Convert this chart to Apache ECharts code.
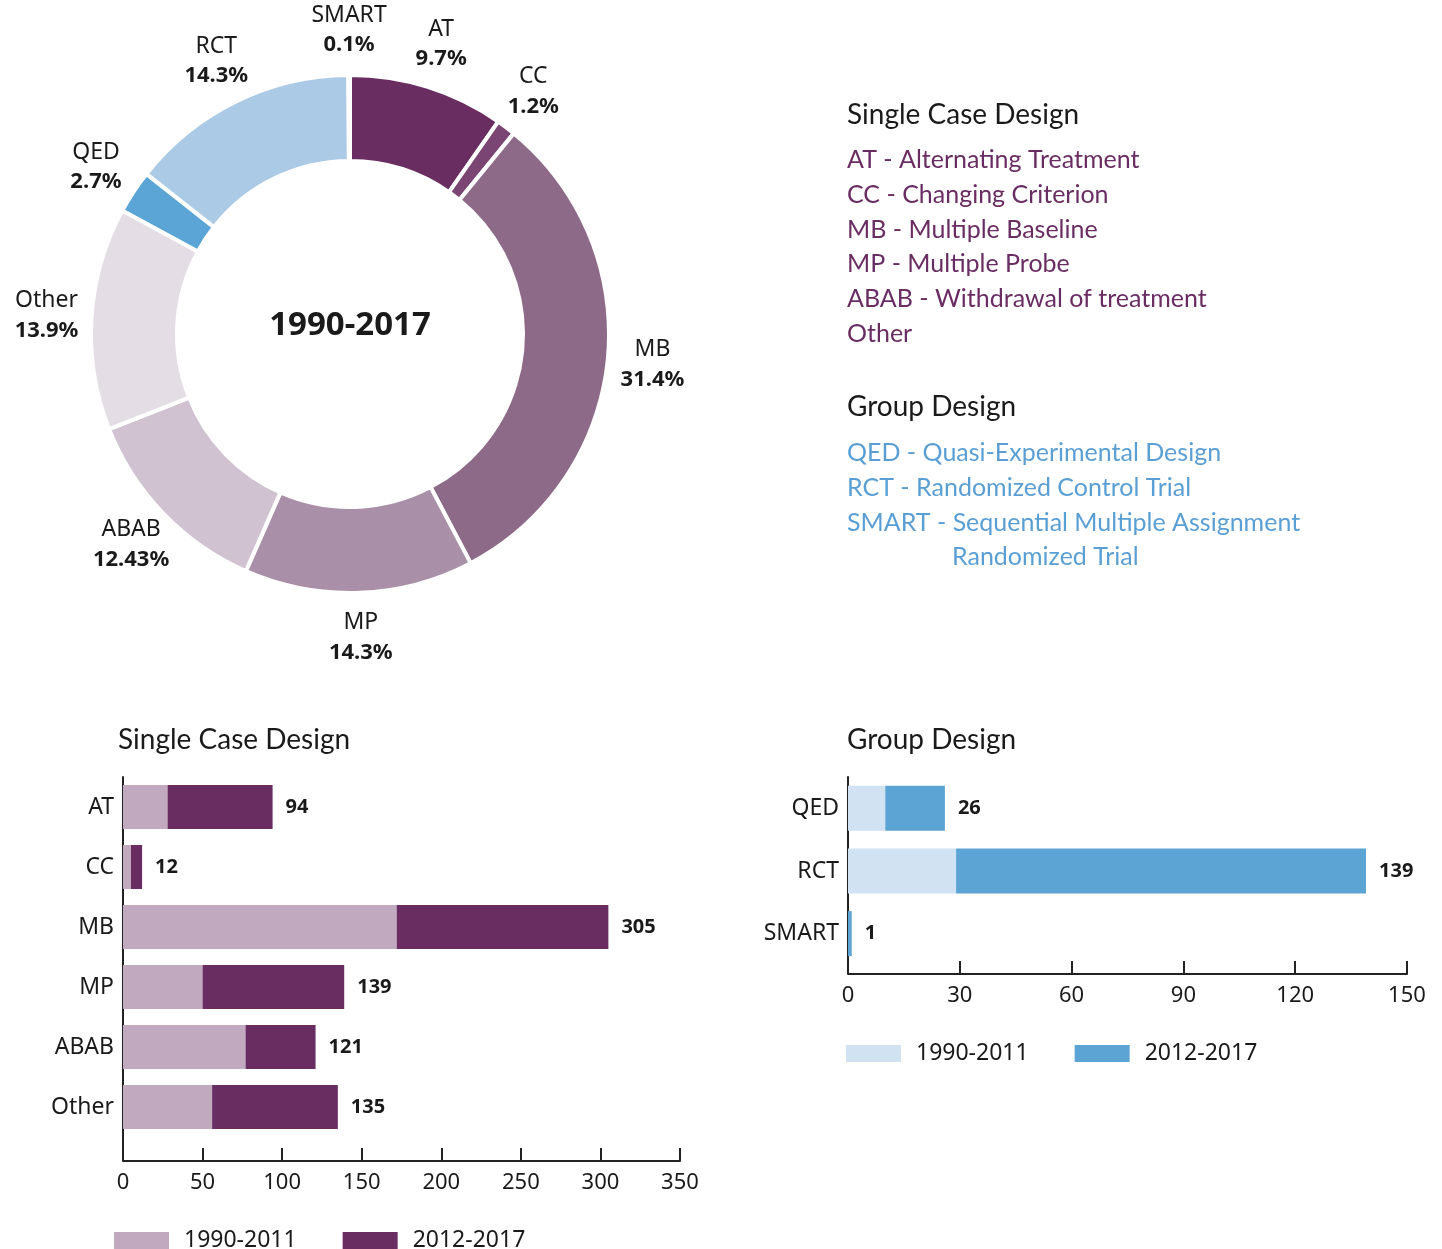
<!DOCTYPE html>
<html>
<head>
<meta charset="UTF-8">
<title>Study designs 1990-2017</title>
<style>
html,body{margin:0;padding:0;background:#fff;}
#main{width:1442px;height:1249px;}
</style>
</head>
<body>
<div id="main"></div>
<script src="https://cdn.jsdelivr.net/npm/echarts@6/dist/echarts.min.js"></script>
<script>
// donut: share of all studies 1990-2017 (percent)
var pieNames  = ['AT', 'CC', 'MB', 'MP', 'ABAB', 'Other', 'QED', 'RCT', 'SMART'];
var pieValues = [9.7, 1.2, 31.4, 14.3, 12.43, 13.9, 2.7, 14.3, 0.1];
var pieColors = ['#692d62', '#7b4573', '#8e6a89', '#a98fa8', '#d1c2d1', '#e5dde5', '#5aa5d5', '#abcae6', '#c5dcf0'];

// single case design counts
var singleCats = ['AT', 'CC', 'MB', 'MP', 'ABAB', 'Other'];
var singleOld  = [28, 5, 172, 50, 77, 56];    // 1990-2011
var singleNew  = [66, 7, 133, 89, 44, 79];    // 2012-2017

// group design counts
var groupCats = ['QED', 'RCT', 'SMART'];
var groupOld  = [10, 29, 0];
var groupNew  = [16, 110, 1];

var periods = ['1990-2011', '2012-2017'];

// key text on the right
var singleKey = ['AT - Alternating Treatment', 'CC - Changing Criterion', 'MB - Multiple Baseline',
                 'MP - Multiple Probe', 'ABAB - Withdrawal of treatment', 'Other'];
var groupKey  = ['QED - Quasi-Experimental Design', 'RCT - Randomized Control Trial',
                 'SMART - Sequential Multiple Assignment'];
var groupKeyWrap = 'Randomized Trial';

var FONT = '"Noto Sans", sans-serif';
var KEYFONT = 'Lato, sans-serif';
var INK = '#1a1a1a';

var cx = 350, cy = 334, labelR = 304;
var pieTotal = 0;
for (var i = 0; i < pieValues.length; i++) pieTotal += pieValues[i];

var myChart = echarts.init(document.getElementById('main'));

var graphics = [
  {type: 'text', x: cx, y: 326, style: {text: '1990-2017', font: 'bold 33px ' + FONT, fill: INK, align: 'center', verticalAlign: 'middle'}},
  {type: 'text', x: 118, y: 740, style: {text: 'Single Case Design', font: '28px ' + KEYFONT, fill: INK, verticalAlign: 'middle'}},
  {type: 'text', x: 847, y: 740, style: {text: 'Group Design', font: '28px ' + KEYFONT, fill: INK, verticalAlign: 'middle'}},
  {type: 'text', x: 847, y: 115, style: {text: 'Single Case Design', font: '28px ' + KEYFONT, fill: INK, verticalAlign: 'middle'}},
  {type: 'text', x: 847, y: 407, style: {text: 'Group Design', font: '28px ' + KEYFONT, fill: INK, verticalAlign: 'middle'}},
  // y axis lines continue down to the x axes
  {type: 'line', shape: {x1: 123, y1: 1136, x2: 123, y2: 1161}, style: {stroke: '#222', lineWidth: 2}},
  {type: 'line', shape: {x1: 848, y1: 964, x2: 848, y2: 974}, style: {stroke: '#222', lineWidth: 2}}
];
singleKey.forEach(function (t, k) {
  graphics.push({type: 'text', x: 847, y: 160 + k * 34.8,
    style: {text: t, font: '25px ' + KEYFONT, fill: '#6a2d63', verticalAlign: 'middle'}});
});
groupKey.forEach(function (t, k) {
  graphics.push({type: 'text', x: 847, y: 453 + k * 35,
    style: {text: t, font: '25px ' + KEYFONT, fill: '#5a9fd4', verticalAlign: 'middle'}});
});
graphics.push({type: 'text', x: 952, y: 557,
  style: {text: groupKeyWrap, font: '25px ' + KEYFONT, fill: '#5a9fd4', verticalAlign: 'middle'}});

function valueAxis(gi, max, step) {
  return {
    type: 'value', gridIndex: gi, min: 0, max: max, interval: step, offset: gi === 0 ? 24 : 9,
    axisLine: {show: true, lineStyle: {color: '#222', width: 2}},
    axisTick: {show: true, inside: true, length: 13, lineStyle: {color: '#222', width: 2}},
    splitLine: {show: false},
    axisLabel: {color: INK, fontFamily: FONT, fontSize: 22, margin: 11}
  };
}
function catAxis(gi, cats) {
  return {
    type: 'category', gridIndex: gi, data: cats, inverse: true,
    axisLine: {show: true, lineStyle: {color: '#222', width: 2}},
    axisTick: {show: false},
    axisLabel: {color: INK, fontFamily: FONT, fontSize: 23, margin: 9}
  };
}
var totalLabel = function (oldArr, newArr) {
  return {
    show: true, position: 'right', distance: 13,
    fontFamily: FONT, fontSize: 20, fontWeight: 'bold', color: INK,
    formatter: function (p) { return oldArr[p.dataIndex] + newArr[p.dataIndex]; }
  };
};

myChart.setOption({
  animation: false,
  graphic: graphics,
  grid: [
    {left: 123, top: 777, width: 557, height: 360, outerBoundsMode: 'none'},
    {left: 848, top: 777, width: 559, height: 188, outerBoundsMode: 'none'}
  ],
  xAxis: [valueAxis(0, 350, 50), valueAxis(1, 150, 30)],
  yAxis: [catAxis(0, singleCats), catAxis(1, groupCats)],
  legend: [
    {
      left: 114, top: 1229, padding: 0, itemWidth: 55, itemHeight: 17, itemGap: 46, icon: 'rect',
      textStyle: {fontFamily: FONT, fontSize: 23, color: INK, padding: [0, 0, 0, 10]},
      data: [{name: periods[0], itemStyle: {color: '#c1aabf'}}, {name: periods[1], itemStyle: {color: '#692d62'}}],
      selectedMode: false
    },
    {
      left: 846, top: 1042, padding: 0, itemWidth: 55, itemHeight: 17, itemGap: 46, icon: 'rect',
      textStyle: {fontFamily: FONT, fontSize: 23, color: INK, padding: [0, 0, 0, 10]},
      data: [{name: periods[0], itemStyle: {color: '#d1e2f2'}}, {name: periods[1], itemStyle: {color: '#5ba4d4'}}],
      selectedMode: false
    }
  ],
  series: [
    {
      type: 'pie', center: [cx, cy], radius: [173, 259], startAngle: 90, clockwise: true,
      avoidLabelOverlap: false, silent: true,
      itemStyle: {borderColor: '#fff', borderWidth: 4},
      labelLine: {show: false},
      label: {
        show: true, position: 'outside',
        formatter: function (p) { return '{n|' + p.name + '}\n{v|' + pieValues[p.dataIndex] + '%}'; },
        rich: {
          n: {fontFamily: FONT, fontSize: 23, color: INK, lineHeight: 30, align: 'center'},
          v: {fontFamily: FONT, fontSize: 22, fontWeight: 'bold', color: INK, lineHeight: 30, align: 'center'}
        }
      },
      labelLayout: function (params) {
        var before = 0;
        for (var j = 0; j < params.dataIndex; j++) before += pieValues[j];
        var mid = (before + pieValues[params.dataIndex] / 2) / pieTotal * Math.PI * 2;
        return {x: cx + labelR * Math.sin(mid), y: cy - labelR * Math.cos(mid), align: 'center', verticalAlign: 'middle'};
      },
      data: pieNames.map(function (n, k) {
        return {name: n, value: pieValues[k], itemStyle: {color: pieColors[k]}};
      })
    },
    {
      name: periods[0], type: 'bar', stack: 'single', xAxisIndex: 0, yAxisIndex: 0,
      barWidth: 44, itemStyle: {color: '#c1aabf'}, data: singleOld
    },
    {
      name: periods[1], type: 'bar', stack: 'single', xAxisIndex: 0, yAxisIndex: 0,
      barWidth: 44, itemStyle: {color: '#692d62'}, data: singleNew,
      label: totalLabel(singleOld, singleNew)
    },
    {
      name: periods[0], type: 'bar', stack: 'group', xAxisIndex: 1, yAxisIndex: 1,
      barWidth: 45, itemStyle: {color: '#d1e2f2'}, data: groupOld
    },
    {
      name: periods[1], type: 'bar', stack: 'group', xAxisIndex: 1, yAxisIndex: 1,
      barWidth: 45, itemStyle: {color: '#5ba4d4'}, data: groupNew,
      label: totalLabel(groupOld, groupNew)
    }
  ]
});
</script>
</body>
</html>
